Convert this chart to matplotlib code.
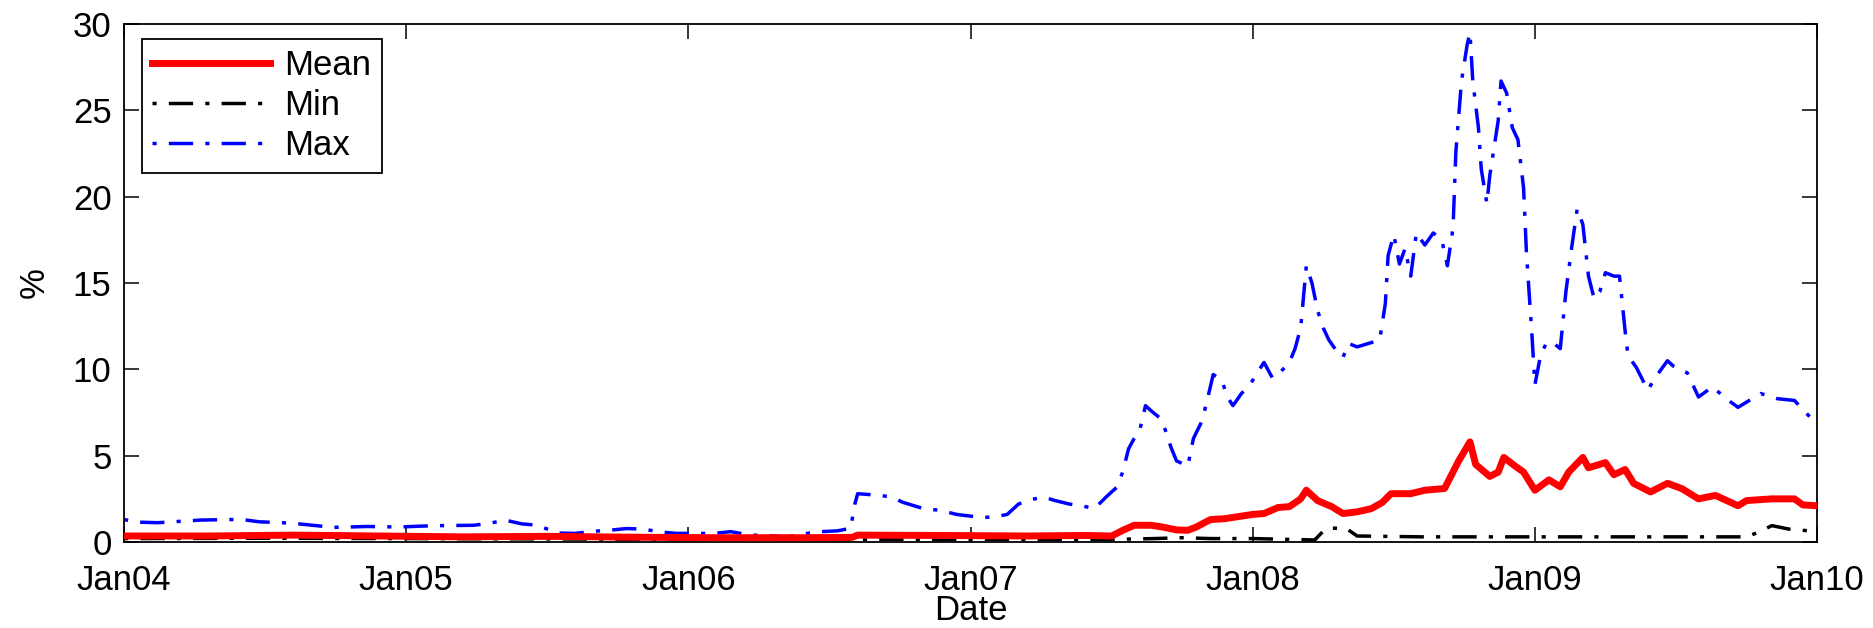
import numpy as np
import matplotlib.pyplot as plt

# dates as decimal years, values in %
max_t = [2004.00, 2004.05, 2004.12, 2004.20, 2004.27, 2004.36, 2004.42, 2004.48, 2004.56, 2004.62,
         2004.68, 2004.74, 2004.80, 2004.86, 2004.93, 2004.99, 2005.05, 2005.12, 2005.18, 2005.24,
         2005.30, 2005.35, 2005.41, 2005.46, 2005.50, 2005.54, 2005.60, 2005.66, 2005.72, 2005.78,
         2005.84, 2005.90, 2005.96, 2006.03, 2006.09, 2006.15, 2006.22, 2006.28, 2006.35, 2006.42,
         2006.47, 2006.53, 2006.575, 2006.59, 2006.60, 2006.64, 2006.68, 2006.72, 2006.76, 2006.80,
         2006.84, 2006.89, 2006.95, 2007.00, 2007.05, 2007.10, 2007.13, 2007.17, 2007.21, 2007.26,
         2007.30, 2007.35, 2007.39, 2007.44, 2007.48, 2007.52, 2007.54, 2007.56, 2007.58, 2007.60,
         2007.62, 2007.64, 2007.67, 2007.69, 2007.71, 2007.73, 2007.77, 2007.79, 2007.82, 2007.84,
         2007.86, 2007.89, 2007.91, 2007.93, 2007.96, 2007.99, 2008.02, 2008.04, 2008.07, 2008.09,
         2008.13, 2008.15, 2008.17, 2008.19, 2008.21, 2008.23, 2008.25, 2008.27, 2008.30, 2008.32,
         2008.34, 2008.37, 2008.41, 2008.45, 2008.47, 2008.48, 2008.50, 2008.52, 2008.54, 2008.56,
         2008.58, 2008.61, 2008.64, 2008.67, 2008.69, 2008.71, 2008.72, 2008.74, 2008.76, 2008.77,
         2008.78, 2008.80, 2008.81, 2008.83, 2008.84, 2008.87, 2008.88, 2008.90, 2008.92, 2008.94,
         2008.96, 2008.97, 2008.99, 2009.00, 2009.02, 2009.04, 2009.06, 2009.09, 2009.11, 2009.13,
         2009.15, 2009.17, 2009.19, 2009.21, 2009.23, 2009.25, 2009.28, 2009.30, 2009.32, 2009.33,
         2009.36, 2009.40, 2009.43, 2009.47, 2009.49, 2009.54, 2009.58, 2009.63, 2009.67, 2009.72,
         2009.77, 2009.80, 2009.86, 2009.92, 2009.96, 2010.00]
max_v = [1.30, 1.15, 1.12, 1.20, 1.27, 1.30, 1.30, 1.17, 1.12, 1.05,
         0.95, 0.85, 0.87, 0.90, 0.88, 0.88, 0.92, 0.95, 0.96, 0.97,
         1.10, 1.27, 1.05, 0.98, 0.75, 0.52, 0.50, 0.62, 0.68, 0.78,
         0.75, 0.58, 0.50, 0.50, 0.50, 0.60, 0.40, 0.38, 0.30, 0.50,
         0.60, 0.65, 0.80, 2.20, 2.80, 2.75, 2.70, 2.60, 2.30, 2.10,
         1.90, 1.85, 1.60, 1.50, 1.42, 1.50, 1.60, 2.20, 2.45, 2.60,
         2.40, 2.20, 2.10, 1.95, 2.60, 3.20, 4.10, 5.40, 6.00, 6.50,
         7.90, 7.60, 7.20, 6.50, 5.50, 4.70, 4.40, 6.00, 7.00, 8.30,
         9.70, 9.40, 8.40, 7.90, 8.60, 9.10, 9.90, 10.4, 9.50, 9.70,
         10.4, 11.2, 12.4, 16.0, 15.0, 13.4, 12.4, 11.7, 11.0, 10.7,
         11.5, 11.3, 11.5, 11.7, 13.8, 16.6, 17.8, 16.1, 17.0, 15.4,
         17.9, 17.2, 17.9, 17.5, 16.0, 18.2, 22.6, 26.7, 28.8, 29.5,
         26.7, 24.0, 21.6, 19.6, 21.2, 24.4, 26.7, 26.0, 24.0, 23.3,
         20.5, 16.8, 11.9, 9.10, 10.8, 11.5, 11.6, 11.2, 14.5, 17.0,
         19.3, 18.4, 15.4, 14.1, 14.5, 15.6, 15.4, 15.4, 12.2, 10.8,
         10.1, 8.80, 9.60, 10.5, 10.2, 9.80, 8.40, 9.00, 8.40, 7.80,
         8.30, 8.60, 8.30, 8.20, 7.50, 6.80]

mean_t = [2004.00, 2004.30, 2004.60, 2004.90, 2005.20, 2005.50, 2005.80, 2006.10, 2006.40, 2006.58,
          2006.60, 2006.90, 2007.20, 2007.40, 2007.50, 2007.54, 2007.58, 2007.64, 2007.68, 2007.73,
          2007.77, 2007.80, 2007.85, 2007.90, 2007.94, 2008.00, 2008.04, 2008.09, 2008.13, 2008.17,
          2008.19, 2008.23, 2008.28, 2008.32, 2008.37, 2008.42, 2008.46, 2008.49, 2008.56, 2008.61,
          2008.68, 2008.73, 2008.77, 2008.79, 2008.84, 2008.87, 2008.89, 2008.93, 2008.96, 2009.00,
          2009.05, 2009.09, 2009.12, 2009.17, 2009.19, 2009.25, 2009.28, 2009.32, 2009.35, 2009.41,
          2009.47, 2009.52, 2009.58, 2009.64, 2009.72, 2009.75, 2009.84, 2009.92, 2009.95, 2010.00]
mean_v = [0.35, 0.35, 0.40, 0.35, 0.30, 0.33, 0.28, 0.25, 0.25, 0.27,
          0.40, 0.38, 0.35, 0.38, 0.35, 0.68, 0.97, 0.97, 0.87, 0.70,
          0.68, 0.87, 1.30, 1.35, 1.45, 1.60, 1.65, 2.00, 2.05, 2.50,
          3.00, 2.40, 2.05, 1.65, 1.75, 1.93, 2.30, 2.80, 2.80, 3.00,
          3.10, 4.70, 5.80, 4.50, 3.80, 4.05, 4.90, 4.40, 4.05, 3.00,
          3.60, 3.20, 4.05, 4.90, 4.30, 4.60, 3.90, 4.20, 3.40, 2.90,
          3.40, 3.10, 2.50, 2.70, 2.10, 2.40, 2.50, 2.50, 2.15, 2.10]

min_t = [2004.00, 2004.50, 2005.00, 2005.50, 2006.00, 2006.50, 2007.00, 2007.50, 2007.65, 2007.75,
         2007.85, 2008.00, 2008.22, 2008.26, 2008.33, 2008.37, 2008.60, 2009.00, 2009.50, 2009.75,
         2009.79, 2009.84, 2009.90, 2009.97, 2010.00]
min_v = [0.20, 0.22, 0.20, 0.18, 0.15, 0.15, 0.15, 0.15, 0.20, 0.25,
         0.20, 0.20, 0.12, 0.80, 0.80, 0.35, 0.30, 0.30, 0.30, 0.30,
         0.55, 0.95, 0.75, 0.65, 0.60]

years = [2004, 2005, 2006, 2007, 2008, 2009, 2010]
year_labels = ['Jan04', 'Jan05', 'Jan06', 'Jan07', 'Jan08', 'Jan09', 'Jan10']

plt.rcParams['font.family'] = ['Liberation Sans', 'DejaVu Sans']
plt.rcParams['font.size'] = 25

fig = plt.figure(figsize=(18.74, 6.28), dpi=100)
ax = fig.add_axes([0.0662, 0.1369, 0.9034, 0.8248])

dashdot = (1.2, 3.5, 7, 3.5)
ax.plot(mean_t, mean_v, color='red', lw=5, label='Mean', zorder=3)
ax.plot(min_t, min_v, color='black', lw=2.5, dashes=dashdot, label='Min', zorder=2)
ax.plot(max_t, max_v, color='blue', lw=2.5, dashes=dashdot, label='Max', zorder=2)

ax.set_xlim(2004, 2010)
ax.set_ylim(0, 30)
ax.set_xticks(years)
ax.set_xticklabels(year_labels)
ax.set_yticks(np.arange(0, 31, 5))
ax.tick_params(direction='in', length=11, width=1.1, top=True, right=True)
ax.tick_params(axis='x', pad=16)
ax.tick_params(axis='y', pad=9)
for s in ax.spines.values():
    s.set_linewidth(1.3)

ax.set_xlabel('Date', labelpad=-2)
ax.set_ylabel('%', labelpad=16)

leg = ax.legend(loc='upper left', bbox_to_anchor=(0.0106, 0.971), borderaxespad=0,
                fancybox=False, edgecolor='black', framealpha=1, handlelength=3.4,
                handletextpad=0.4, labelspacing=0.2, borderpad=0.3, fontsize=25)
leg.get_frame().set_linewidth(1.3)

plt.savefig('out.png', dpi=100)
